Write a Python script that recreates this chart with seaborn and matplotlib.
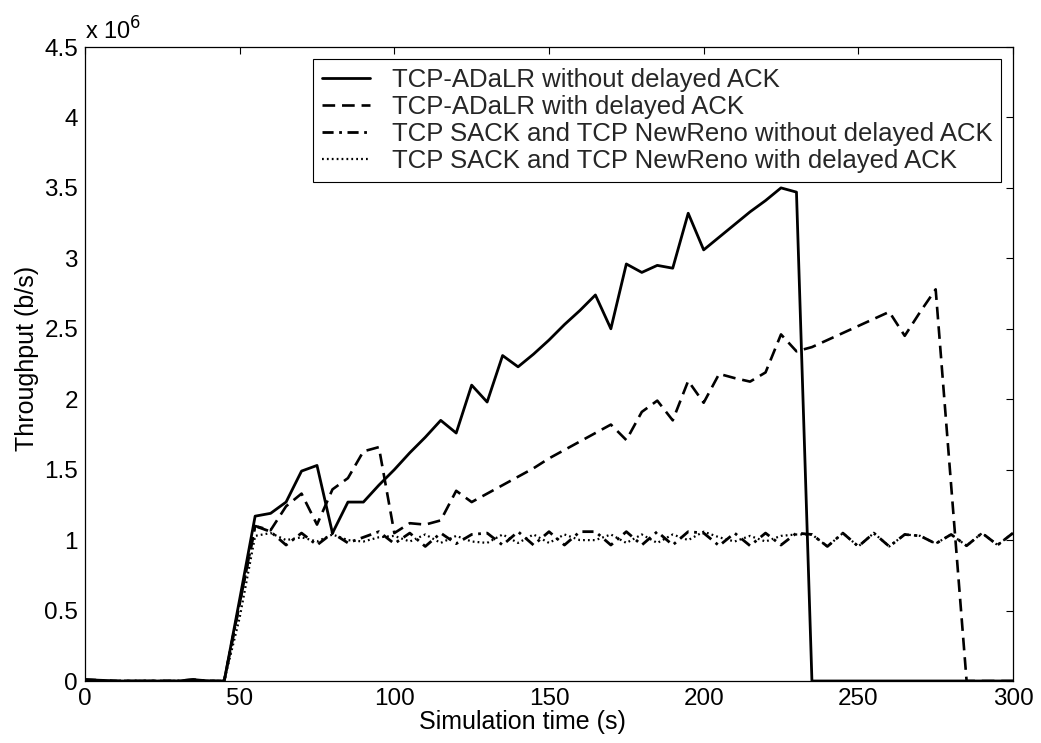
import numpy as np
import pandas as pd
import matplotlib
matplotlib.use("Agg")
import matplotlib.pyplot as plt
from matplotlib.ticker import FuncFormatter
import seaborn as sns

# ---- data (throughput in units of 1e6 b/s), sampled every 5 s ----
time_s = list(range(0, 305, 5))

adalr_no_delack = [0.01, 0.005, 0, 0, 0, 0, 0, 0.01, 0, 0,
                   0.58, 1.17, 1.19, 1.27, 1.49, 1.53, 1.05, 1.27, 1.27, 1.39,
                   1.50, 1.62, 1.73, 1.85, 1.76, 2.10, 1.98, 2.31, 2.23, 2.32,
                   2.42, 2.53, 2.63, 2.74, 2.50, 2.96, 2.90, 2.95, 2.93, 3.32,
                   3.06, 3.15, 3.24, 3.33, 3.41, 3.50, 3.47, 0, 0, 0,
                   0, 0, 0, 0, 0, 0, 0, 0, 0, 0, 0]

adalr_delack = [0, 0, 0, 0, 0, 0, 0, 0, 0, 0,
                0.55, 1.10, 1.07, 1.24, 1.33, 1.11, 1.36, 1.44, 1.63, 1.66,
                1.05, 1.12, 1.11, 1.14, 1.35, 1.27, 1.33, 1.39, 1.45, 1.51,
                1.58, 1.64, 1.70, 1.76, 1.82, 1.71, 1.91, 1.99, 1.85, 2.13,
                1.975, 2.18, 2.15, 2.125, 2.19, 2.46, 2.34, 2.37, 2.42, 2.47,
                2.52, 2.57, 2.62, 2.45, 2.62, 2.78, 1.39, 0, 0, 0, 0]

sack_newreno_no_delack = [0.01, 0.005, 0, 0, 0, 0, 0, 0.01, 0, 0,
                          0.55, 1.10, 1.06, 0.965, 1.05, 0.965, 1.05, 0.98, 1.02, 1.06,
                          0.975, 1.05, 0.955, 1.05, 0.975, 1.04, 1.05, 0.965, 1.06, 0.965,
                          1.06, 0.965, 1.06, 1.06, 0.965, 1.06, 0.965, 1.06, 0.965, 1.06,
                          1.05, 0.96, 1.05, 0.96, 1.05, 0.965, 1.05, 1.04, 0.955, 1.05,
                          0.955, 1.05, 0.955, 1.04, 1.03, 0.975, 1.04, 0.96, 1.05, 0.965, 1.05]

sack_newreno_delack = [0, 0, 0, 0, 0, 0, 0, 0, 0, 0,
                       0.45, 1.03, 1.05, 1.00, 1.02, 0.99, 1.04, 1.00, 0.99, 1.02,
                       1.03, 0.99, 1.04, 0.98, 1.03, 0.99, 0.98, 1.04, 0.98, 1.04,
                       0.98, 1.04, 1.00, 1.00, 1.04, 0.98, 1.04, 0.98, 1.04, 1.00,
                       1.06, 1.02, 0.99, 1.03, 0.99, 1.03, 1.04, 1.04, 0.955, 1.05,
                       0.955, 1.05, 0.955, 1.04, 1.03, 0.975, 1.04, 0.96, 1.05, 0.965, 1.05]

labels = ["TCP-ADaLR without delayed ACK",
          "TCP-ADaLR with delayed ACK",
          "TCP SACK and TCP NewReno without delayed ACK",
          "TCP SACK and TCP NewReno with delayed ACK"]

sns.set_theme(style="white")
plt.rcParams["font.family"] = ["Liberation Sans", "DejaVu Sans"]
plt.rcParams["xtick.direction"] = "in"
plt.rcParams["ytick.direction"] = "in"

fig = plt.figure(figsize=(10.41, 7.43), dpi=100)
W, H = 1041, 743
ax = fig.add_axes([85 / W, 1 - 681 / H, (1013 - 85) / W, (681 - 47) / H])

series = [adalr_no_delack, adalr_delack, sack_newreno_no_delack, sack_newreno_delack]
styles = ["-", (0, (4.8, 2.6)), (0, (4.0, 2.0, 1.0, 2.0)), (0, (0.8, 1.4))]
widths = [2.0, 1.9, 2.0, 1.6]

for vals, lab, ls, lw in zip(series, labels, styles, widths):
    df = pd.DataFrame({"t": time_s, "thr": np.array(vals) * 1e6})
    sns.lineplot(data=df, x="t", y="thr", ax=ax, color="black",
                 linestyle=ls, linewidth=lw, label=lab, estimator=None)

ax.set_xlim(0, 300)
ax.set_ylim(0, 4.5e6)
ax.set_xticks(np.arange(0, 301, 50))
ax.set_yticks(np.arange(0, 4.51e6, 0.5e6))
ax.yaxis.set_major_formatter(FuncFormatter(lambda v, p: f"{v / 1e6:g}"))
ax.tick_params(axis="both", which="major", labelsize=17.5, length=5, width=0.8,
               color="black", top=True, right=True, pad=5, labelcolor="black")

for sp in ax.spines.values():
    sp.set_color("black")
    sp.set_linewidth(0.9)

ax.set_xlabel("Simulation time (s)", fontsize=18, color="black", labelpad=0)
ax.set_ylabel("Throughput (b/s)", fontsize=18, color="black", labelpad=4)
ax.xaxis.label.set_x(0.471)
ax.yaxis.label.set_y(0.509)

ax.text(0.0, 1.003, "x 10$^{6}$", transform=ax.transAxes, fontsize=17,
        ha="left", va="bottom", color="black")

leg = ax.legend(loc="upper right", fontsize=18.5, frameon=True, fancybox=False,
                edgecolor="black", framealpha=1, handlelength=1.85,
                handletextpad=0.85, labelspacing=0.12, borderpad=0.35,
                borderaxespad=0.45)
leg.get_frame().set_linewidth(0.8)

fig.savefig("out.png", dpi=100)
